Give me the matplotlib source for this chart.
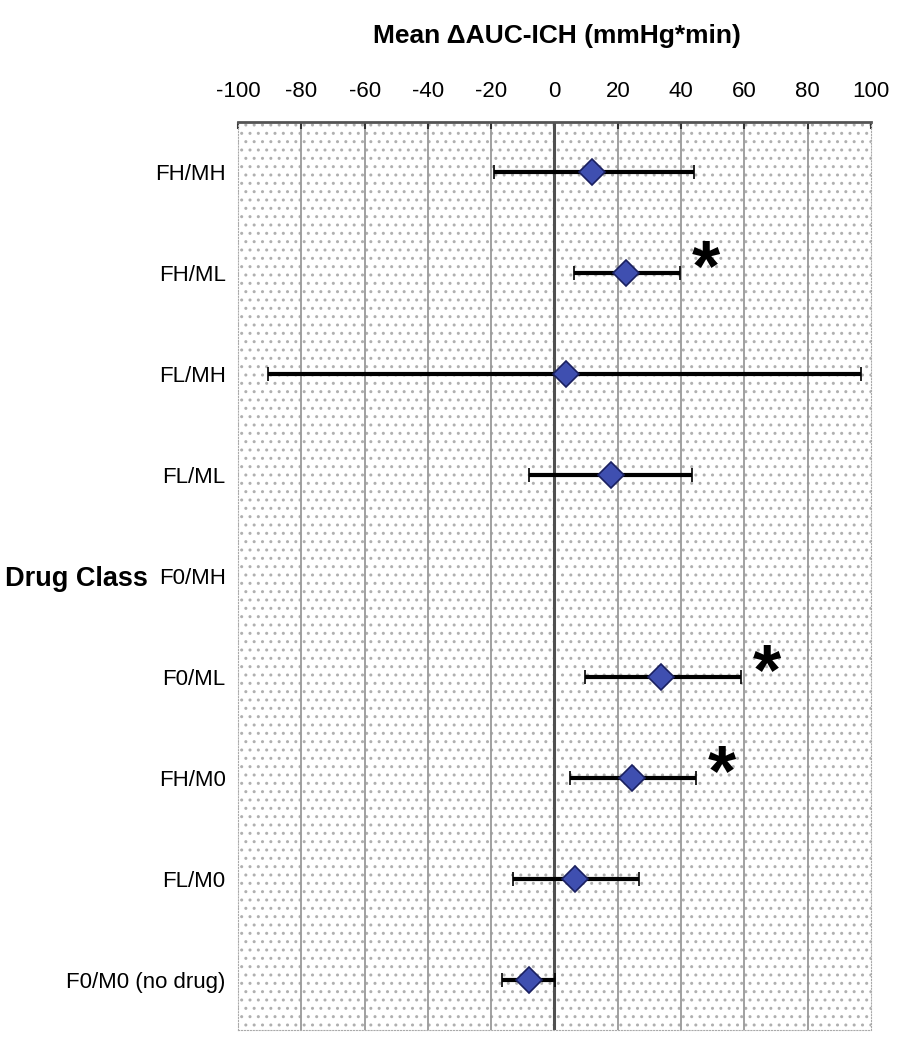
import matplotlib.pyplot as plt
import numpy as np
from matplotlib.patches import Rectangle

plt.rcParams["font.family"] = ["Liberation Sans", "DejaVu Sans"]
plt.rcParams["axes.unicode_minus"] = False

categories = ["FH/MH", "FH/ML", "FL/MH", "FL/ML", "F0/MH",
              "F0/ML", "FH/M0", "FL/M0", "F0/M0 (no drug)"]
means = [12, 22.7, 3.5, 17.7, np.nan, 33.8, 24.6, 6.6, -7.9]
lower = [-19.2, 6.3, -90.5, -7.9, np.nan, 9.8, 5.0, -13.2, -16.7]
upper = [44.0, 39.7, 96.8, 43.5, np.nan, 59.0, 44.8, 26.8, 0.3]
star_cats = ["FH/ML", "F0/ML", "FH/M0"]
xticks = np.arange(-100, 101, 20)

fig = plt.figure(figsize=(9.2, 10.5), dpi=100)
ax = fig.add_axes([0.2587, 0.019, 0.688, 0.865])

# dotted background
ax.add_patch(Rectangle((0, 0), 1, 1, transform=ax.transAxes, facecolor="white",
                       edgecolor="#b0b0b0", hatch="..", lw=0, zorder=0))

y = np.arange(len(categories))
means = np.array(means)
err = [means - np.array(lower), np.array(upper) - means]
ax.errorbar(means, y, xerr=err, fmt="D", color="black", ecolor="black",
            elinewidth=3, capsize=5, capthick=3, markersize=13,
            markerfacecolor="#3f4fb0", markeredgecolor="#1a2060",
            markeredgewidth=1.2, zorder=5)

# significance stars
for c in star_cats:
    i = categories.index(c)
    ax.text(upper[i] + 8, i - 0.02, "*", fontsize=52, fontweight="bold",
            ha="center", va="center", zorder=6)

for t in xticks:
    if t == 0:
        ax.axvline(t, color="#505050", lw=2.2, zorder=2)
    elif abs(t) != 100:
        ax.axvline(t, color="#999999", lw=1.3, zorder=1)

ax.set_xlim(-100, 100)
ax.set_ylim(len(categories) - 0.5, -0.5)
ax.set_xticks(xticks)
ax.set_yticks(y)
ax.set_yticklabels(categories, fontsize=16)
ax.xaxis.tick_top()
ax.tick_params(axis="x", labelsize=16, direction="in", length=5, width=1.5,
               pad=14, color="#333333")
ax.tick_params(axis="y", length=0, pad=9)

for s in ["left", "right", "bottom"]:
    ax.spines[s].set_color("#aaaaaa")
    ax.spines[s].set_linestyle(":")
ax.spines["top"].set_linewidth(2)
ax.spines["top"].set_color("#555555")

fig.text(0.605, 0.9657, "Mean \u0394AUC-ICH (mmHg*min)", fontsize=19,
         fontweight="bold", ha="center", va="center")
fig.text(0.005, 0.449, "Drug Class", fontsize=19.5, fontweight="bold",
         ha="left", va="center")

fig.savefig("out.png", dpi=100)
